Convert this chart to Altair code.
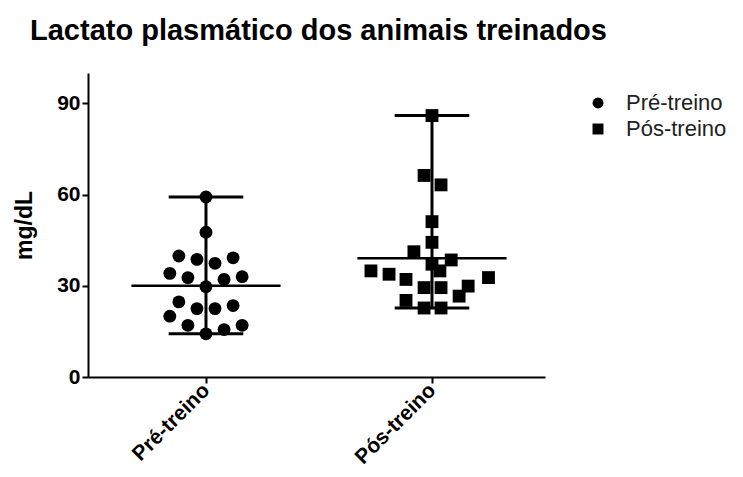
import altair as alt
import pandas as pd

categories = ["Pré-treino", "Pós-treino"]

pre_values = [59.2, 47.6, 39.8, 38.7, 37.4, 39.2, 34.1, 32.7, 32.1, 33.0,
              29.7, 24.7, 22.5, 22.5, 23.5, 20.0, 17.0, 15.6, 17.0, 14.2]
pre_offsets = [0, 0, -0.12, -0.04, 0.04, 0.12, -0.16, -0.08, 0.08, 0.16,
               0, -0.12, -0.04, 0.04, 0.12, -0.16, -0.08, 0.08, 0.16, 0]

pos_values = [86.0, 66.3, 63.2, 51.1, 44.3, 41.2, 38.5, 37.1, 34.9, 33.8,
              34.9, 32.1, 32.7, 29.4, 29.4, 29.9, 26.6, 25.2, 22.7, 22.7]
pos_offsets = [0, -0.035, 0.04, 0, 0, -0.08, 0.085, 0, -0.27, -0.19,
               0.035, -0.115, 0.25, -0.035, 0.04, 0.16, 0.12, -0.115, -0.035, 0.04]

rows = []
for gi, (vals, offs) in enumerate([(pre_values, pre_offsets), (pos_values, pos_offsets)]):
    for v, o in zip(vals, offs):
        rows.append({"grupo": categories[gi], "idx": gi, "pos": gi + o, "valor": v})
df = pd.DataFrame(rows)

FONT = "Liberation Sans"
label_expr = " : ".join(
    [f"datum.value == {i} ? '{c}'" for i, c in enumerate(categories[:-1])] + [f"'{categories[-1]}'"]
)

xscale = alt.Scale(domain=[-0.522, 1.5], nice=False, zero=False)
yscale = alt.Scale(domain=[0, 100], nice=False)

base = alt.Chart(df)

points = base.mark_point(filled=True, opacity=1, color="black", size=165).encode(
    x=alt.X("pos:Q", scale=xscale, title=None,
            axis=alt.Axis(values=[0, 1], labelExpr=label_expr, labelAngle=-45,
                          labelAlign="right", labelBaseline="middle", labelPadding=4,
                          labelFontSize=21, grid=False)),
    y=alt.Y("valor:Q", scale=yscale, title="mg/dL",
            axis=alt.Axis(values=[0, 30, 60, 90], grid=False)),
    shape=alt.Shape("grupo:N", scale=alt.Scale(domain=categories, range=["circle", "square"]),
                    legend=alt.Legend(title=None, orient="none", legendX=499, legendY=19,
                                      labelFontSize=22, labelFont=FONT, labelColor="#222",
                                      symbolSize=120, symbolFillColor="black",
                                      symbolStrokeColor="black", symbolType="circle",
                                      rowPadding=4, labelOffset=17)),
)

mean_line = base.transform_aggregate(
    media="mean(valor)", groupby=["idx"]
).transform_calculate(
    xa="datum.idx - 0.33", xb="datum.idx + 0.33"
).mark_rule(color="black", strokeWidth=2.5).encode(
    x=alt.X("xa:Q", scale=xscale), x2="xb:Q", y=alt.Y("media:Q", scale=yscale)
)

stats = base.transform_aggregate(
    mn="min(valor)", mx="max(valor)", groupby=["idx"]
).transform_calculate(
    xa="datum.idx - 0.165", xb="datum.idx + 0.165"
)

whisker = stats.mark_rule(color="black", strokeWidth=3).encode(
    x=alt.X("idx:Q", scale=xscale), y=alt.Y("mn:Q", scale=yscale), y2="mx:Q"
)
cap_top = stats.mark_rule(color="black", strokeWidth=3).encode(
    x=alt.X("xa:Q", scale=xscale), x2="xb:Q", y=alt.Y("mx:Q", scale=yscale)
)
cap_bot = stats.mark_rule(color="black", strokeWidth=3).encode(
    x=alt.X("xa:Q", scale=xscale), x2="xb:Q", y=alt.Y("mn:Q", scale=yscale)
)

chart = alt.layer(whisker, cap_top, cap_bot, mean_line, points).properties(
    width=457, height=304,
    padding={"left": 80, "top": 65, "right": 190, "bottom": 92},
    autosize=alt.AutoSizeParams(type="none"),
    title=alt.Title("Lactato plasmático dos animais treinados", anchor="start", frame="group",
                    dx=-58, offset=27, font=FONT, fontSize=29, fontWeight="bold", color="black"),
).configure_view(stroke=None).configure_axis(
    domainColor="black", domainWidth=2, tickColor="black", tickWidth=2, tickSize=6,
    labelFont=FONT, labelFontSize=21, labelFontWeight="bold", labelColor="black",
    titleFont=FONT, titleFontSize=23, titleFontWeight="bold", titleColor="black",
    titlePadding=20,
)

chart.save("out.html", embed_options={"renderer": "svg", "actions": False})
